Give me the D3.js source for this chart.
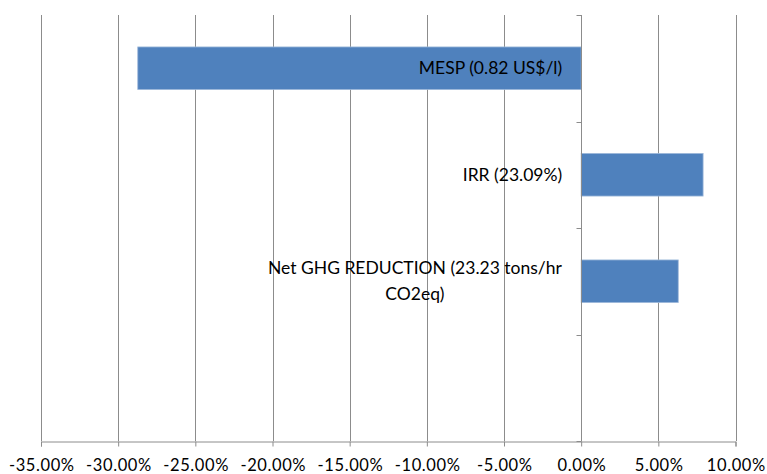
<!DOCTYPE html>
<html>
<head>
<meta charset="utf-8">
<script src="https://cdn.jsdelivr.net/npm/d3@7"></script>
<style>
  html, body { margin: 0; padding: 0; background: #fff; }
  svg { display: block; }
  text { font-family: Lato, "Open Sans", sans-serif; fill: #000; }
</style>
</head>
<body>
<svg id="chart" width="767" height="474"></svg>
<script>
// Sensitivity of each indicator (% change)
const categories = [
  ["MESP (0.82 US$/l)"],
  ["IRR (23.09%)"],
  ["Net GHG REDUCTION (23.23 tons/hr", "CO2eq)"],
  [""]
];
const values = [-28.73, 7.9, 6.29, null];
const xTicks = [-35, -30, -25, -20, -15, -10, -5, 0, 5, 10];

const svg = d3.select("#chart");
const margin = { top: 15, left: 41, right: 31.5, bottom: 33 };
const W = 767, H = 474;
const plotBottom = H - margin.bottom;

const x = d3.scaleLinear().domain([-35, 10]).range([margin.left, W - margin.right]);
const y = d3.scaleBand().domain(d3.range(categories.length))
  .range([margin.top, plotBottom]).paddingInner(0.6).paddingOuter(0.3);
const yEdges = d3.scaleLinear().domain([0, categories.length]).range([margin.top, plotBottom]);

// vertical gridlines
svg.append("g").selectAll("line").data(xTicks).join("line")
  .attr("x1", d => Math.round(x(d)) + 0.5).attr("x2", d => Math.round(x(d)) + 0.5)
  .attr("y1", margin.top).attr("y2", plotBottom)
  .attr("stroke", "#8c8c8c").attr("stroke-width", 1);

// bottom value axis
const pct = v => (v < 0 ? "-" : "") + Math.abs(v).toFixed(2) + "%";
const xAxis = svg.append("g").attr("transform", `translate(0,${Math.round(plotBottom) + 0.5})`)
  .call(d3.axisBottom(x).tickValues(xTicks).tickSize(5).tickPadding(13).tickFormat(pct));
xAxis.select(".domain").attr("stroke", "#8c8c8c");
xAxis.selectAll(".tick line").attr("stroke", "#8c8c8c");
xAxis.selectAll(".tick text")
  .attr("font-size", 16.5).attr("letter-spacing", "0.6px").attr("dx", "0.3px")
  .attr("font-family", "Lato, 'Open Sans', sans-serif");

// bars
svg.append("g").selectAll("rect").data(values.map((v, i) => ({ v, i })).filter(d => d.v !== null))
  .join("rect")
  .attr("x", d => x(Math.min(0, d.v)))
  .attr("width", d => Math.abs(x(d.v) - x(0)))
  .attr("y", d => y(d.i))
  .attr("height", y.bandwidth())
  .attr("fill", "#4f81bd")
  .attr("stroke", "#9db8da").attr("stroke-width", 0.8);

// category axis at zero
const x0 = Math.round(x(0)) + 0.5;
const cat = svg.append("g");
cat.append("line").attr("x1", x0).attr("x2", x0).attr("y1", margin.top).attr("y2", plotBottom)
  .attr("stroke", "#8c8c8c");
cat.selectAll("line.tk").data(d3.range(categories.length + 1)).join("line").attr("class", "tk")
  .attr("x1", x0 - 5).attr("x2", x0)
  .attr("y1", d => Math.round(yEdges(d)) + 0.5).attr("y2", d => Math.round(yEdges(d)) + 0.5)
  .attr("stroke", "#8c8c8c");

// category labels, right-aligned block left of the zero line
const labelRight = x(0) - 19;
const lineH = 26;
categories.forEach((lines, i) => {
  const cy = y(i) + y.bandwidth() / 2;
  const g = svg.append("g");
  const t = g.append("text").attr("font-size", 17.5).attr("text-anchor", "middle");
  lines.forEach((s, k) => {
    t.append("tspan").attr("x", 0).attr("y", (k - (lines.length - 1) / 2) * lineH).attr("dy", "0.35em").text(s);
  });
  const bb = t.node().getBBox();
  g.attr("transform", `translate(${labelRight - bb.width / 2},${cy})`);
});
</script>
</body>
</html>
